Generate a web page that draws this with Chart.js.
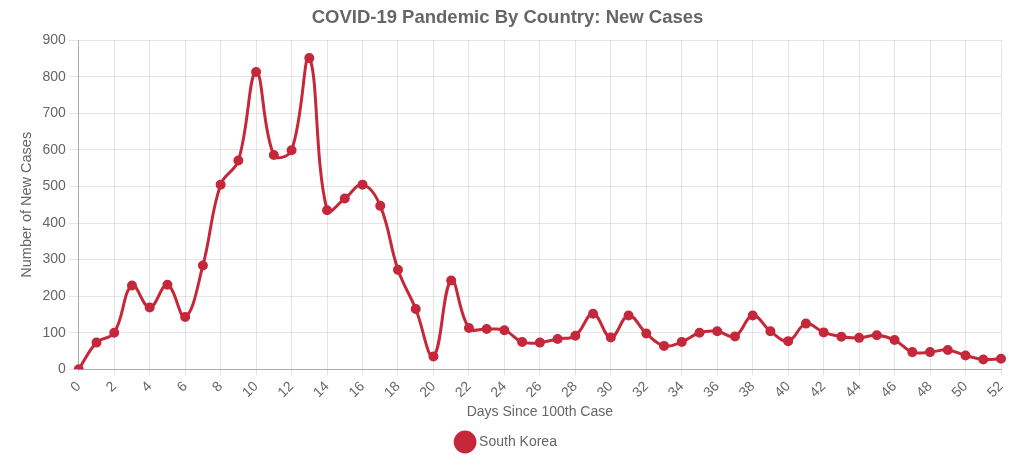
<!DOCTYPE html>
<html>
<head>
<meta charset="utf-8">
<script src="https://cdn.jsdelivr.net/npm/chart.js@4/dist/chart.umd.min.js"></script>
<style>
  html, body { margin: 0; padding: 0; background: #fff; }
  #wrap { width: 1024px; height: 470px; position: relative; }
</style>
</head>
<body>
<div id="wrap"><canvas id="casesChart"></canvas></div>
<script>
const days = [];
for (let d = 0; d <= 52; d++) days.push(String(d));

const southKorea = [
    0, 73, 100, 229, 169, 231, 143, 284, 505, 571,
    813, 586, 599, 851, 435, 467, 505, 447, 272, 165,
    35, 243, 113, 110, 107, 75, 73, 83, 92, 152,
    87, 147, 98, 64, 75, 100, 104, 90, 147, 104,
    77, 125, 101, 89, 86, 93, 80, 47, 47, 53,
    38, 27, 29
];

const yTicks = [0, 100, 200, 300, 400, 500, 600, 700, 800, 900];

const red = '#C4283A';
const textColor = '#666';
const gridColor = 'rgba(0,0,0,0.1)';
const fontFamily = '"Liberation Sans", Arial, Helvetica, sans-serif';

Chart.defaults.font.family = fontFamily;
Chart.defaults.color = textColor;

const ctx = document.getElementById('casesChart').getContext('2d');

new Chart(ctx, {
    type: 'line',
    data: {
        labels: days,
        datasets: [{
            label: 'South Korea',
            data: southKorea,
            borderColor: red,
            backgroundColor: red,
            pointBackgroundColor: red,
            pointBorderColor: red,
            borderWidth: 3,
            pointRadius: 3.5,
            fill: false,
            tension: 0.4
        }]
    },
    options: {
        responsive: true,
        maintainAspectRatio: false,
        animation: false,
        layout: { padding: { left: 14, right: 23, top: 3, bottom: 11 } },
        scales: {
            x: {
                grid: {
                    tickLength: 6,
                    // only every second day gets a line, like the labels
                    color: (c) => (c.tick && c.tick.value % 2 === 1) ? 'rgba(0,0,0,0)' : gridColor
                },
                border: { color: 'rgba(0,0,0,0.25)' },
                ticks: {
                    font: { size: 14 },
                    color: textColor,
                    maxRotation: 45,
                    minRotation: 45,
                    autoSkip: false,
                    callback: (value, index) => index % 2 === 0 ? days[index] : ''
                },
                title: {
                    display: true,
                    text: 'Days Since 100th Case',
                    font: { size: 14 },
                    color: textColor,
                    padding: { top: 0, bottom: 0 }
                }
            },
            y: {
                min: 0,
                max: 900,
                grid: { color: gridColor, tickLength: 10 },
                border: { color: 'rgba(0,0,0,0.25)' },
                afterBuildTicks: function (axis) {
                    axis.ticks = yTicks.map(v => ({ value: v }));
                },
                ticks: {
                    font: { size: 14 },
                    color: textColor
                },
                title: {
                    display: true,
                    text: 'Number of New Cases',
                    font: { size: 14.5 },
                    color: textColor
                }
            }
        },
        plugins: {
            title: {
                display: true,
                text: 'COVID-19 Pandemic By Country: New Cases',
                font: { size: 18.5, weight: 'bold' },
                color: textColor,
                padding: { top: 4, bottom: 11 }
            },
            legend: {
                display: true,
                position: 'bottom',
                labels: {
                    usePointStyle: true,
                    pointStyle: 'circle',
                    font: { size: 14 },
                    color: textColor,
                    padding: 14
                }
            },
            tooltip: { enabled: false }
        }
    }
});
</script>
</body>
</html>
